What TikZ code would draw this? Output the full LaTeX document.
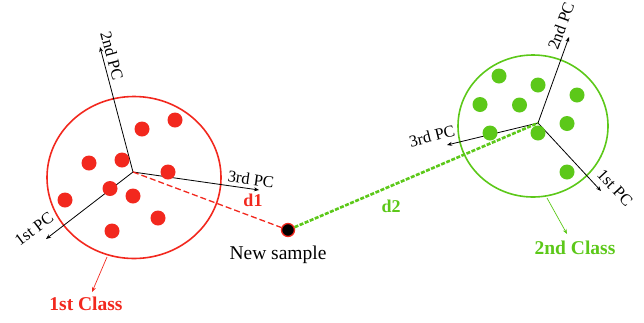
\documentclass[tikz,border=0pt]{standalone}
\usepackage{fontspec}
\setmainfont{Liberation Serif}
\usetikzlibrary{arrows.meta}
\definecolor{cred}{RGB}{242,40,30}
\definecolor{cgreen}{RGB}{92,200,25}
\tikzset{
  axis/.style={draw=black, line width=0.8pt, -{Stealth[length=5pt,width=4pt]}},
  pclabel/.style={font=\fontsize{16.5}{18}\selectfont, inner sep=0pt},
  rdot/.style={circle, fill=cred, minimum size=15pt, inner sep=0pt},
  gdot/.style={circle, fill=cgreen, minimum size=15pt, inner sep=0pt},
  classlabel/.style={font=\fontsize{19.5}{22}\bfseries\selectfont, inner sep=0pt},
  dlabel/.style={font=\fontsize{18}{20}\bfseries\selectfont, inner sep=0pt},
  ptr/.style={line width=0.7pt, -{Stealth[length=5pt,width=4pt]}}
}
\begin{document}
\begin{tikzpicture}[x=1pt,y=-1pt]
\useasboundingbox (0,0) rectangle (644,322);
% ---- first class ----
\draw[cred, line width=1.6pt] (134,177.5) ellipse [x radius=87, y radius=81];
\coordinate (ro) at (133,172);
\coordinate (r2) at (100,47);
\coordinate (r3) at (259,190);
\coordinate (r1) at (46,239);
\draw[axis] (ro) -- (r2);
\draw[axis] (ro) -- (r3);
\draw[axis] (ro) -- (r1);
\node[pclabel, rotate=-75] (r2l) at (112,56) {2nd PC};
\node[pclabel, rotate=-8] (r3l) at (251,179) {3rd PC};
\node[pclabel, rotate=37] (r1l) at (34,229) {1st PC};
\foreach \n/\p in {a/{(175,120)}, b/{(142,129)}, c/{(89,163)}, d/{(122,160)}, e/{(168,172)}, f/{(65,200)}, g/{(110,188.5)}, h/{(133,196)}, i/{(158,218)}, j/{(112,231)}}
  \node[rdot] (rd\n) at \p {};
\coordinate (rcb) at (107,257);
\node[classlabel, text=cred] (c1) at (86,304) {1st Class};
\draw[ptr, cred] (rcb) -- (92,292);
% ---- second class ----
\draw[cgreen, line width=1.6pt] (533,126) ellipse [x radius=75, y radius=71];
\coordinate (go) at (538,123);
\coordinate (g2) at (569,37);
\coordinate (g3) at (447,145);
\coordinate (g1) at (601,191);
\draw[axis] (go) -- (g2);
\draw[axis] (go) -- (g3);
\draw[axis] (go) -- (g1);
\node[pclabel, rotate=70] (g2l) at (561,26) {2nd PC};
\node[pclabel, rotate=14] (g3l) at (432,136) {3rd PC};
\node[pclabel, rotate=-47] (g1l) at (615,188) {1st PC};
\foreach \n/\p in {a/{(499,76)}, b/{(538,85)}, c/{(577,95)}, d/{(480,104.5)}, e/{(519.5,105)}, f/{(567,123.5)}, g/{(490,133)}, h/{(538,133)}, i/{(567,172)}}
  \node[gdot] (gd\n) at \p {};
\coordinate (gcb) at (547,198);
\node[classlabel, text=cgreen] (c2) at (575,248) {2nd Class};
\draw[ptr, cgreen] (gcb) -- (567,234);
% ---- new sample ----
\node[circle, fill=black, draw=cred, line width=1.3pt, minimum size=13pt, inner sep=0pt] (ns) at (288,230) {};
\draw[cred, line width=1.3pt, dash pattern=on 6pt off 3pt] (ro) -- (ns);
\draw[cgreen, line width=2.6pt, dash pattern=on 4pt off 1.5pt] (ns) -- (go);
\node[font=\fontsize{19.5}{22}\selectfont, inner sep=0pt] (nsl) at (278,255) {New sample};
\node[dlabel, text=cred] (d1) at (253,200) {d1};
\node[dlabel, text=cgreen] (d2) at (391,206) {d2};
\end{tikzpicture}
\end{document}
